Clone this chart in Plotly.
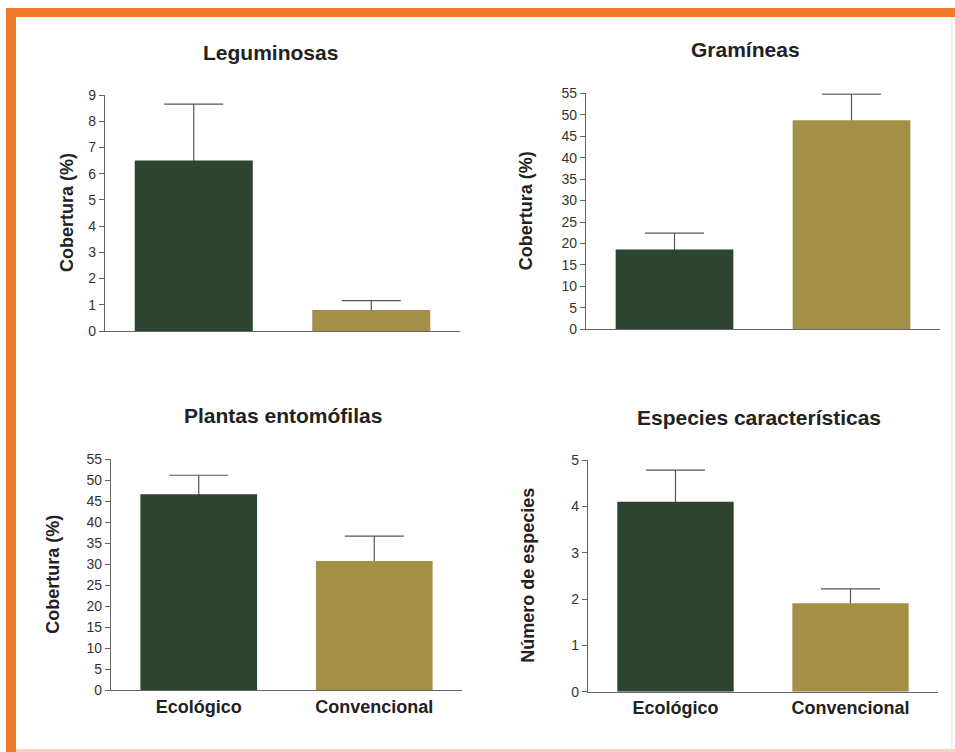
import plotly.graph_objects as go

W, H = 955, 752

categories = ["Ecológico", "Convencional"]
panel_titles = ["Leguminosas", "Gramíneas", "Plantas entomófilas", "Especies características"]
y_titles = ["Cobertura (%)", "Cobertura (%)", "Cobertura (%)", "Número de especies"]

leguminosas_mean = [6.5, 0.8]
leguminosas_err = [2.15, 0.36]
gramineas_mean = [18.6, 48.7]
gramineas_err = [3.8, 6.1]
entomofilas_mean = [46.7, 30.8]
entomofilas_err = [4.5, 5.9]
especies_mean = [4.1, 1.91]
especies_err = [0.68, 0.31]

y_max = [9, 55, 55, 5]
y_dtick = [1, 5, 5, 1]

bar_colors = ["#2c4430", "#a48f46"]

means = [leguminosas_mean, gramineas_mean, entomofilas_mean, especies_mean]
errs = [leguminosas_err, gramineas_err, entomofilas_err, especies_err]


def fx(px):
    return px / W


def fy(py):
    return 1 - py / H


# plot areas in pixels: (x0, x1, ytop, ybottom)
areas = [
    (105, 460, 95, 331),
    (586, 940, 93.3, 329.3),
    (111, 462, 459.3, 690.3),
    (588, 938, 460, 691.7),
]
title_pos = [(270, 52), (745, 50), (283, 415), (759, 417)]
ytitle_x = [67, 526, 53, 528]

fig = go.Figure()
for i in range(4):
    xa = "x" if i == 0 else f"x{i+1}"
    ya = "y" if i == 0 else f"y{i+1}"
    # error bars (symmetric; lower half hidden by the bars drawn on top)
    fig.add_trace(go.Bar(
        x=categories, y=means[i],
        marker=dict(color="rgba(0,0,0,0)", line=dict(width=0)),
        width=0.665,
        error_y=dict(type="data", array=errs[i], symmetric=True,
                     color="#555555", thickness=1.2, width=29.5),
        xaxis=xa, yaxis=ya, showlegend=False, hoverinfo="skip",
    ))
    fig.add_trace(go.Bar(
        x=categories, y=means[i],
        marker=dict(color=bar_colors, line=dict(width=0)),
        width=0.665,
        xaxis=xa, yaxis=ya, showlegend=False,
    ))
    x0, x1, yt, yb = areas[i]
    xkey = "xaxis" if i == 0 else f"xaxis{i+1}"
    ykey = "yaxis" if i == 0 else f"yaxis{i+1}"
    bottom = i >= 2
    fig.update_layout({
        xkey: dict(domain=[fx(x0), fx(x1)], anchor=ya, range=[-0.5, 1.5],
                   automargin=False,
                   showline=True, linecolor="#666666", linewidth=1.2,
                   ticks="", showgrid=False, zeroline=False,
                   showticklabels=bottom, ticklabelstandoff=0,
                   tickfont=dict(family="Liberation Sans", size=18, color="#222222",
                                 weight="bold"),
                   fixedrange=True),
        ykey: dict(domain=[fy(yb), fy(yt)], anchor=xa, range=[0, y_max[i]],
                   dtick=y_dtick[i], tick0=0, automargin=False,
                   showline=True, linecolor="#666666", linewidth=1.2,
                   ticks="outside", ticklen=5, tickwidth=1.2, tickcolor="#666666",
                   showgrid=False, zeroline=False,
                   tickfont=dict(family="Liberation Sans", size=14, color="#333333"),
                   fixedrange=True),
    })
    tx, ty = title_pos[i]
    fig.add_annotation(x=fx(tx), y=fy(ty), xref="paper", yref="paper",
                       text=f"<b>{panel_titles[i]}</b>", showarrow=False,
                       xanchor="center", yanchor="middle",
                       font=dict(family="Liberation Sans", size=21, color="#222222"))
    fig.add_annotation(x=fx(ytitle_x[i]), y=fy((yt + yb) / 2), xref="paper", yref="paper",
                       text=f"<b>{y_titles[i]}</b>", showarrow=False, textangle=-90,
                       xanchor="center", yanchor="middle",
                       font=dict(family="Liberation Sans", size=18, color="#222222"))

# decorative orange frame
orange = "#f07a2c"
shapes = [
    dict(type="rect", xref="paper", yref="paper", x0=fx(6), x1=fx(16), y0=fy(752), y1=fy(8),
         fillcolor=orange, line=dict(width=0), layer="below"),
    dict(type="rect", xref="paper", yref="paper", x0=fx(6), x1=1, y0=fy(17), y1=fy(8),
         fillcolor=orange, line=dict(width=0), layer="below"),
    dict(type="rect", xref="paper", yref="paper", x0=fx(16), x1=1, y0=fy(752), y1=fy(749),
         fillcolor="#f6d2bc", line=dict(width=0), layer="below"),
    dict(type="rect", xref="paper", yref="paper", x0=fx(951), x1=fx(953), y0=fy(749), y1=fy(17),
         fillcolor="#f4ece4", line=dict(width=0), layer="below"),
]

fig.update_layout(
    width=W, height=H,
    autosize=False,
    margin=dict(l=0, r=0, t=0, b=0, pad=0, autoexpand=False),
    paper_bgcolor="white", plot_bgcolor="white",
    barmode="overlay",
    shapes=shapes,
    showlegend=False,
    font=dict(family="Liberation Sans"),
)

post = (
    "document.documentElement.style.margin='0';"
    "document.documentElement.style.padding='0';"
    "document.documentElement.style.overflow='hidden';"
    "document.body.style.margin='0';"
    "document.body.style.padding='0';"
    "document.body.style.overflow='hidden';"
    "var gd=document.getElementsByClassName('plotly-graph-div')[0];"
    "gd.style.position='absolute';gd.style.top='0px';gd.style.left='0px';"
)

fig.write_html("out.html", config={"displayModeBar": False}, post_script=post)
